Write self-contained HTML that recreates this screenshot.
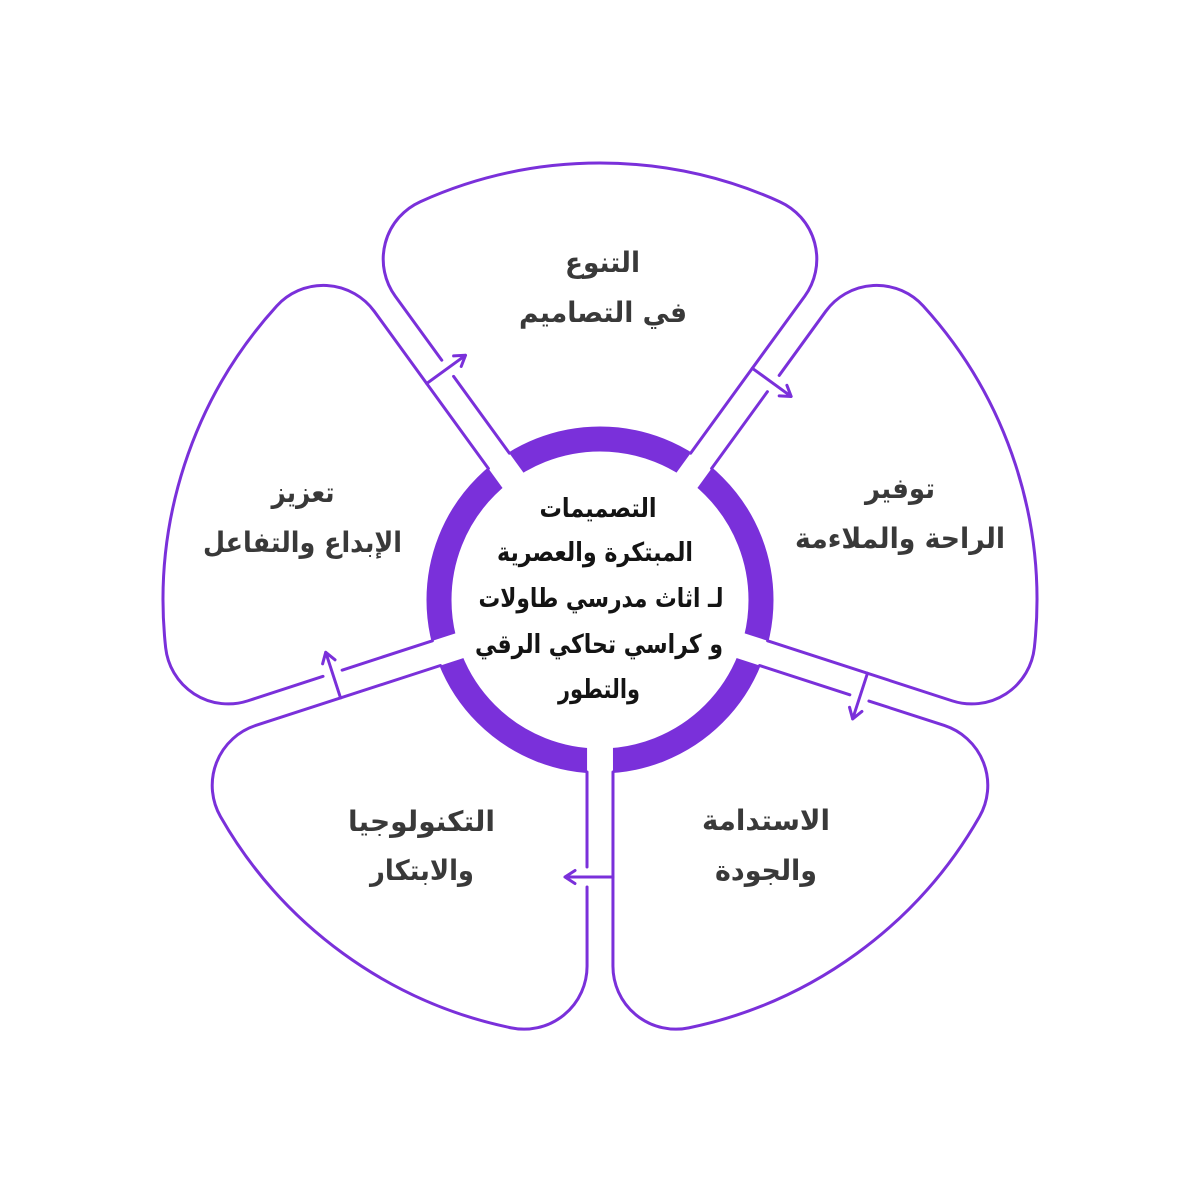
<!DOCTYPE html>
<html>
<head>
<meta charset="utf-8">
<style>
  html,body{margin:0;padding:0;background:#fff;}
  svg{display:block;}
  .pt{font-family:"DejaVu Sans","Liberation Sans",sans-serif;font-weight:bold;font-size:28px;fill:#393939;}
  .ct{font-family:"DejaVu Sans","Liberation Sans",sans-serif;font-weight:bold;font-size:26px;fill:#141414;}
</style>
</head>
<body>
<svg width="1200" height="1200" viewBox="0 0 1200 1200" xmlns="http://www.w3.org/2000/svg">
  <rect width="1200" height="1200" fill="#ffffff"/>
  <!-- ring -->
  <circle cx="600" cy="600" r="161" fill="none" stroke="#7a30da" stroke-width="25"/>
  <!-- channel gaps in ring -->
  <g fill="#ffffff">
    <polygon points="610.5,592.4 498.8,438.7 477.8,453.9 589.5,607.6"/>
    <polygon points="610.5,592.4 498.8,438.7 477.8,453.9 589.5,607.6" transform="rotate(72 600 600)"/>
    <polygon points="610.5,592.4 498.8,438.7 477.8,453.9 589.5,607.6" transform="rotate(144 600 600)"/>
    <polygon points="610.5,592.4 498.8,438.7 477.8,453.9 589.5,607.6" transform="rotate(216 600 600)"/>
    <polygon points="610.5,592.4 498.8,438.7 477.8,453.9 589.5,607.6" transform="rotate(288 600 600)"/>
  </g>
  <!-- petals -->
  <g fill="none" stroke="#7a30da" stroke-width="3" stroke-linecap="round" stroke-linejoin="round">
    <g>
      <path d="M 509.4,453.2 L 453.6,376.4 M 441.8,360.2 L 395.2,296.1 A 63 63 0 0 1 420.3,201.7 A 437 437 0 0 1 779.7,201.7 A 63 63 0 0 1 804.8,296.1 L 690.6,453.2"/>
      <path d="M 426.7,383.5 L 465.5,355.3 M 453.6,355.9 L 465.5,355.3 L 461.2,366.5"/>
    </g>
    <g transform="rotate(72 600 600)">
      <path d="M 509.4,453.2 L 453.6,376.4 M 441.8,360.2 L 395.2,296.1 A 63 63 0 0 1 420.3,201.7 A 437 437 0 0 1 779.7,201.7 A 63 63 0 0 1 804.8,296.1 L 690.6,453.2"/>
      <path d="M 426.7,383.5 L 465.5,355.3 M 453.6,355.9 L 465.5,355.3 L 461.2,366.5"/>
    </g>
    <g transform="rotate(144 600 600)">
      <path d="M 509.4,453.2 L 453.6,376.4 M 441.8,360.2 L 395.2,296.1 A 63 63 0 0 1 420.3,201.7 A 437 437 0 0 1 779.7,201.7 A 63 63 0 0 1 804.8,296.1 L 690.6,453.2"/>
      <path d="M 426.7,383.5 L 465.5,355.3 M 453.6,355.9 L 465.5,355.3 L 461.2,366.5"/>
    </g>
    <g transform="rotate(216 600 600)">
      <path d="M 509.4,453.2 L 453.6,376.4 M 441.8,360.2 L 395.2,296.1 A 63 63 0 0 1 420.3,201.7 A 437 437 0 0 1 779.7,201.7 A 63 63 0 0 1 804.8,296.1 L 690.6,453.2"/>
      <path d="M 426.7,383.5 L 465.5,355.3 M 453.6,355.9 L 465.5,355.3 L 461.2,366.5"/>
    </g>
    <g transform="rotate(288 600 600)">
      <path d="M 509.4,453.2 L 453.6,376.4 M 441.8,360.2 L 395.2,296.1 A 63 63 0 0 1 420.3,201.7 A 437 437 0 0 1 779.7,201.7 A 63 63 0 0 1 804.8,296.1 L 690.6,453.2"/>
      <path d="M 426.7,383.5 L 465.5,355.3 M 453.6,355.9 L 465.5,355.3 L 461.2,366.5"/>
    </g>
  </g>

  <!-- petal texts -->
  <g class="pt" text-anchor="middle">
    <text x="602.5" y="272" textLength="75" lengthAdjust="spacingAndGlyphs">التنوع</text>
    <text x="603" y="322" textLength="168" lengthAdjust="spacingAndGlyphs">في التصاميم</text>

    <text x="900" y="498" textLength="70" lengthAdjust="spacingAndGlyphs">توفير</text>
    <text x="900" y="548" textLength="210" lengthAdjust="spacingAndGlyphs">الراحة والملاءمة</text>

    <text x="766" y="830" textLength="128" lengthAdjust="spacingAndGlyphs">الاستدامة</text>
    <text x="766" y="880" textLength="102" lengthAdjust="spacingAndGlyphs">والجودة</text>

    <text x="421.5" y="831" textLength="147" lengthAdjust="spacingAndGlyphs">التكنولوجيا</text>
    <text x="422" y="880" textLength="104" lengthAdjust="spacingAndGlyphs">والابتكار</text>

    <text x="303" y="502" textLength="63" lengthAdjust="spacingAndGlyphs">تعزيز</text>
    <text x="302.5" y="552" textLength="199" lengthAdjust="spacingAndGlyphs">الإبداع والتفاعل</text>
  </g>

  <!-- center text -->
  <g class="ct" text-anchor="middle">
    <text x="598" y="517" textLength="117" lengthAdjust="spacingAndGlyphs">التصميمات</text>
    <text x="595" y="561" textLength="196" lengthAdjust="spacingAndGlyphs">المبتكرة والعصرية</text>
    <text x="601" y="607" textLength="245" lengthAdjust="spacingAndGlyphs">لـ اثاث مدرسي طاولات</text>
    <text x="599" y="653" textLength="248" lengthAdjust="spacingAndGlyphs">و كراسي تحاكي الرقي</text>
    <text x="599" y="698" textLength="82" lengthAdjust="spacingAndGlyphs">والتطور</text>
  </g>
</svg>
</body>
</html>
